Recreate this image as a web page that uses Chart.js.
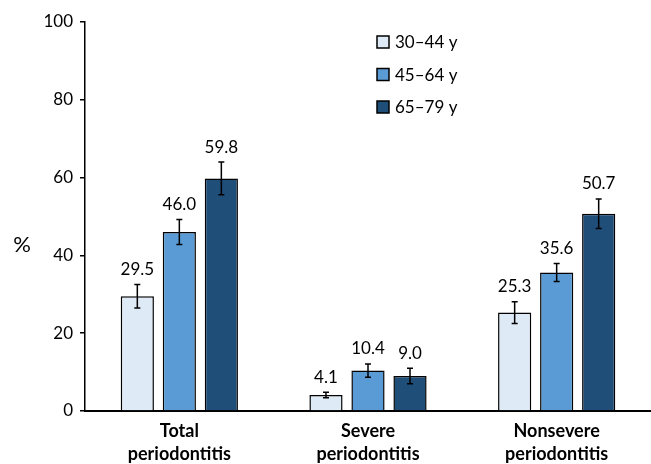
<!DOCTYPE html>
<html>
<head>
<meta charset="utf-8">
<script src="https://cdn.jsdelivr.net/npm/chart.js@4/dist/chart.umd.min.js"></script>
<style>
html,body{margin:0;padding:0;background:#fff;}
#wrap{width:651px;height:464px;position:relative;}
</style>
</head>
<body>
<div id="wrap"><canvas id="c" width="651" height="464"></canvas></div>
<script>
const categories = [['Total', 'periodontitis'], ['Severe', 'periodontitis'], ['Nonsevere', 'periodontitis']];
const seriesLabels = ['30\u201344 y', '45\u201364 y', '65\u201379 y'];
const age30_44 = [29.5, 4.1, 25.3];
const age45_64 = [46.0, 10.4, 35.6];
const age65_79 = [59.8, 9.0, 50.7];
const err30_44 = [3.0, 0.7, 2.8];
const err45_64 = [3.2, 1.7, 2.3];
const err65_79 = [4.2, 2.0, 3.8];
const yTicks = [0, 20, 40, 60, 80, 100];
const yTitle = '%';

const colors = ['#DEEAF6', '#5B9BD5', '#1F4E79'];
const FONT = 'Lato, "Open Sans", sans-serif';

const errorBars = {
  id: 'errorBars',
  afterDatasetsDraw(chart) {
    const ctx = chart.ctx;
    const y = chart.scales.y;
    ctx.save();
    chart.data.datasets.forEach((ds, di) => {
      const meta = chart.getDatasetMeta(di);
      meta.data.forEach((bar, i) => {
        const v = ds.data[i], e = ds.errors[i];
        const top = y.getPixelForValue(v + e);
        const bot = y.getPixelForValue(v - e);
        const x = bar.x;
        ctx.strokeStyle = '#000';
        ctx.lineWidth = 1.5;
        ctx.beginPath();
        ctx.moveTo(x, top); ctx.lineTo(x, bot);
        ctx.moveTo(x - 3, top); ctx.lineTo(x + 3, top);
        ctx.moveTo(x - 3, bot); ctx.lineTo(x + 3, bot);
        ctx.stroke();
        ctx.fillStyle = '#000';
        ctx.font = '17px ' + FONT;
        ctx.textAlign = 'center';
        ctx.textBaseline = 'middle';
        ctx.fillText(v.toFixed(1), x, top - 15);
      });
    });
    ctx.restore();
  }
};

const extras = {
  id: 'extras',
  afterDraw(chart) {
    const ctx = chart.ctx;
    ctx.save();
    ctx.fillStyle = '#000';
    ctx.font = '22px ' + FONT;
    ctx.textAlign = 'center';
    ctx.textBaseline = 'middle';
    ctx.fillText(yTitle, 22, 245);
    // legend
    ctx.font = '17px ' + FONT;
    ctx.textAlign = 'left';
    chart.data.datasets.forEach((ds, i) => {
      const cy = 42 + i * 32.5;
      ctx.fillStyle = ds.backgroundColor;
      ctx.fillRect(377, cy - 6, 12, 12);
      ctx.strokeStyle = '#000';
      ctx.lineWidth = 1.5;
      ctx.strokeRect(377, cy - 6, 12, 12);
      ctx.fillStyle = '#000';
      ctx.fillText(ds.label, 395, cy + 1);
    });
    ctx.restore();
  }
};

new Chart(document.getElementById('c'), {
  type: 'bar',
  data: {
    labels: categories,
    datasets: [
      { label: seriesLabels[0], data: age30_44, errors: err30_44, backgroundColor: colors[0] },
      { label: seriesLabels[1], data: age45_64, errors: err45_64, backgroundColor: colors[1] },
      { label: seriesLabels[2], data: age65_79, errors: err65_79, backgroundColor: colors[2] }
    ].map(d => Object.assign(d, { borderColor: '#000', borderWidth: 1.5, categoryPercentage: 0.668, barPercentage: 0.79 }))
  },
  options: {
    responsive: false,
    animation: false,
    devicePixelRatio: 1,
    layout: { padding: { left: 0, right: 0, top: 22, bottom: 0 } },
    plugins: { legend: { display: false }, tooltip: { enabled: false } },
    scales: {
      x: {
        grid: { display: true, drawOnChartArea: false, drawTicks: false },
        border: { display: true, color: '#000', width: 2 },
        ticks: { color: '#000', font: { family: FONT, size: 18, weight: 'bold', lineHeight: 1.28 }, padding: 9, maxRotation: 0 },
        afterFit(s) { s.height = 53; }
      },
      y: {
        min: 0, max: 100,
        afterBuildTicks(s) { s.ticks = yTicks.map(v => ({ value: v })); },
        grid: { display: true, drawOnChartArea: false, drawTicks: true, tickLength: 5, color: '#000', lineWidth: 1.5 },
        border: { display: true, color: '#000', width: 1.5 },
        ticks: { color: '#000', font: { family: FONT, size: 17 }, padding: 7 },
        afterFit(s) { s.width = 85; }
      }
    }
  },
  plugins: [errorBars, extras]
});
</script>
</body>
</html>
